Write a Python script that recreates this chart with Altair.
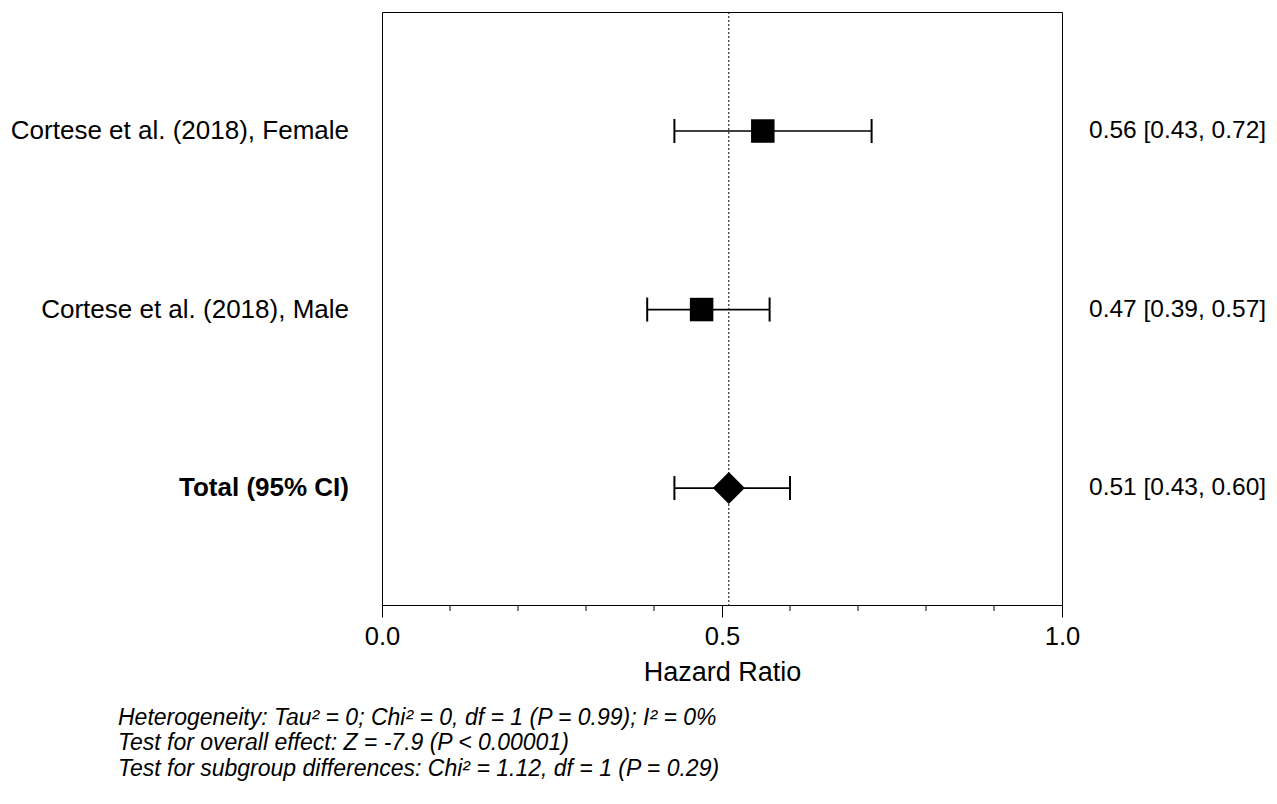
import altair as alt
import pandas as pd

studies = ["Cortese et al. (2018), Female", "Cortese et al. (2018), Male", "Total (95% CI)"]
hr = [0.56, 0.47, 0.51]
lo = [0.43, 0.39, 0.43]
hi = [0.72, 0.57, 0.60]
ci_text = ["0.56 [0.43, 0.72]", "0.47 [0.39, 0.57]", "0.51 [0.43, 0.60]"]
row = [1, 2, 3]
kind = ["study", "study", "total"]
minor_ticks = [0.1, 0.2, 0.3, 0.4, 0.6, 0.7, 0.8, 0.9]
major_ticks = [0.0, 0.5, 1.0]
footnotes = [
    "Heterogeneity: Tau\u00b2 = 0; Chi\u00b2 = 0, df = 1 (P = 0.99); I\u00b2 = 0%",
    "Test for overall effect: Z = -7.9 (P < 0.00001)",
    "Test for subgroup differences: Chi\u00b2 = 1.12, df = 1 (P = 0.29)",
]
foot_y = [706, 731, 757]
summary_hr = 0.51

df = pd.DataFrame({"study": studies, "hr": hr, "lo": lo, "hi": hi,
                   "ci": ci_text, "row": row, "kind": kind})
caps = pd.DataFrame({"x": lo + hi, "row": row + row})
minor_df = pd.DataFrame({"x": minor_ticks})
foot_df = pd.DataFrame({"t": footnotes, "y": foot_y})

FONT = "Liberation Sans"
W, H = 680, 593

xscale = alt.Scale(domain=[0, 1], nice=False, zero=False)
yscale = alt.Scale(domain=[0.3333, 3.655], reverse=True)
yenc = alt.Y("row:Q", scale=yscale, axis=None)

base = alt.Chart(df)

xaxis = alt.Axis(values=major_ticks, format=".1f", tickSize=12, tickColor="black",
                 domainColor="black", labelFontSize=25.5, labelFont=FONT,
                 labelColor="black", labelPadding=7, labelFlush=False, grid=False,
                 title="Hazard Ratio", titleFontSize=27, titleFont=FONT,
                 titleFontWeight="normal", titleColor="black", titlePadding=10)

vline = alt.Chart(pd.DataFrame({"x": [summary_hr]})).mark_rule(
    color="black", strokeDash=[2, 2], strokeWidth=1
).encode(x=alt.X("x:Q", scale=xscale, axis=xaxis))

lines = base.mark_rule(color="black", strokeWidth=1.7).encode(
    x=alt.X("lo:Q", scale=xscale), x2="hi:Q", y=yenc)

capmarks = alt.Chart(caps).mark_tick(color="black", orient="vertical", opacity=1,
                                     size=24, thickness=2).encode(
    x=alt.X("x:Q", scale=xscale), y=yenc)

squares = base.transform_filter(alt.datum.kind == "study").mark_point(
    shape="square", filled=True, color="black", opacity=1, size=552
).encode(x=alt.X("hr:Q", scale=xscale), y=yenc)

diamond = base.transform_filter(alt.datum.kind == "total").mark_point(
    shape="diamond", filled=True, color="black", opacity=1, size=1024
).encode(x=alt.X("hr:Q", scale=xscale), y=yenc)

left_study = base.transform_filter(alt.datum.kind == "study").mark_text(
    align="right", baseline="middle", font=FONT, fontSize=26, color="black"
).encode(x=alt.value(-33), y=yenc, text="study:N")

left_total = base.transform_filter(alt.datum.kind == "total").mark_text(
    align="right", baseline="middle", font=FONT, fontSize=26, fontWeight="bold",
    color="black"
).encode(x=alt.value(-33), y=yenc, text="study:N")

right_text = base.mark_text(
    align="left", baseline="middle", font=FONT, fontSize=24.5, color="black"
).encode(x=alt.value(707), y=yenc, text="ci:N")

minor = alt.Chart(minor_df).mark_rule(color="black", strokeWidth=1).encode(
    x=alt.X("x:Q", scale=xscale), y=alt.value(H), y2=alt.value(H + 6))

foot = alt.Chart(foot_df).mark_text(
    align="left", baseline="middle", font=FONT, fontSize=23, fontStyle="italic",
    color="black"
).encode(x=alt.value(-264), y=alt.Y("y:Q", scale=None), text="t:N")

chart = alt.layer(vline, lines, capmarks, squares, diamond, left_study, left_total,
                  right_text, minor, foot).properties(
    width=W, height=H,
    padding={"left": 382, "top": 12, "right": 215, "bottom": 199},
    autosize=alt.AutoSizeParams(type="none"),
    background="white",
).configure_view(stroke="black", strokeWidth=1)

chart.save("out.html", embed_options={"renderer": "svg", "actions": False})
